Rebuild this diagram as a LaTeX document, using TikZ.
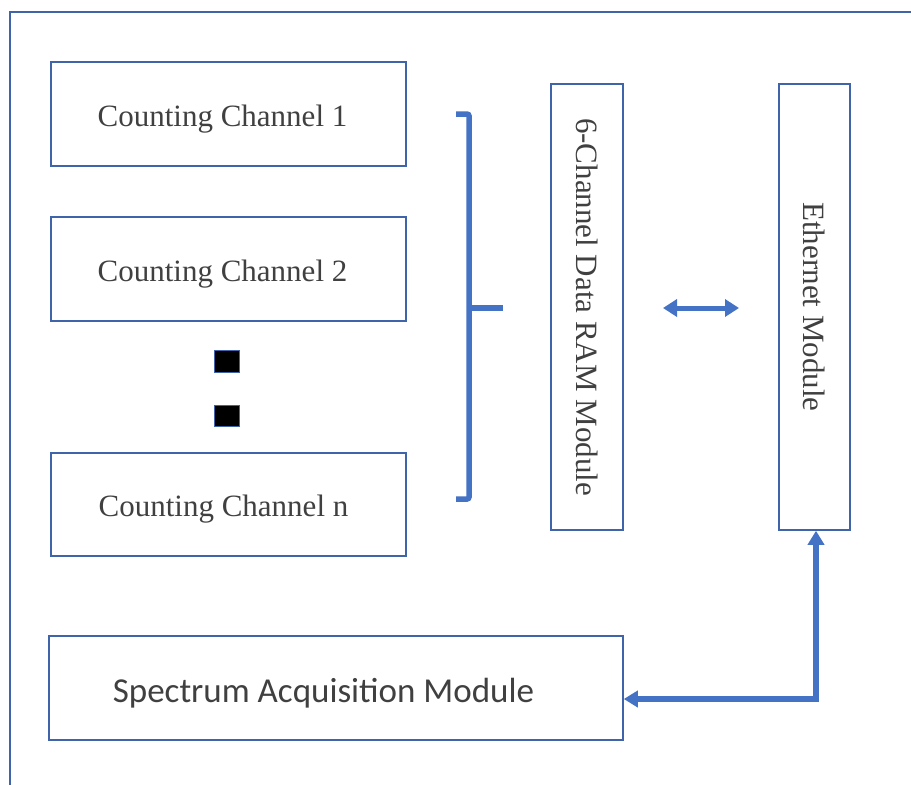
\documentclass[tikz,border=0pt]{standalone}
\usepackage{fontspec}
\setmainfont{Liberation Serif}
\newfontfamily\calibrifont{Carlito}
\usetikzlibrary{arrows.meta}
\definecolor{boxblue}{RGB}{64,100,170}
\definecolor{arrblue}{RGB}{68,114,196}
\definecolor{txtgray}{RGB}{64,64,64}
\tikzset{
  blk/.style={draw=boxblue, line width=1.5pt, fill=white, rectangle, inner sep=0pt},
  lbl/.style={text=txtgray, inner sep=0pt, font=\fontsize{31}{34}\selectfont},
  slbl/.style={text=txtgray, inner sep=0pt, font=\calibrifont\fontsize{35}{38}\selectfont},
  dotbox/.style={draw=boxblue, line width=1pt, fill=black, rectangle, inner sep=0pt},
  arr/.style={draw=arrblue, line width=5.5pt, {Triangle[length=14pt,width=16pt]}-{Triangle[length=14pt,width=16pt]}},
  darr/.style={draw=arrblue, line width=5pt, {Triangle[length=14pt,width=17pt]}-{Triangle[length=14pt,width=17pt]}},
  brk/.style={draw=arrblue, line width=5.5pt, rounded corners=2pt}
}
\begin{document}
\begin{tikzpicture}[x=1pt,y=-1pt]
\useasboundingbox (0,0) rectangle (911,785);
\clip (0,0) rectangle (911,785);
\draw[boxblue, line width=1.5pt] (10,12) rectangle (930,800);

\node[blk, minimum width=355pt, minimum height=104pt] (cc1) at (228.5,114) {};
\node[lbl] (cc1t) at ([xshift=-6pt,yshift=-5pt]cc1.center) {Counting Channel 1};
\node[blk, minimum width=355pt, minimum height=104pt] (cc2) at (228.5,269) {};
\node[lbl] (cc2t) at ([xshift=-6pt,yshift=-5pt]cc2.center) {Counting Channel 2};
\node[blk, minimum width=355pt, minimum height=103pt] (ccn) at (228.5,504.5) {};
\node[lbl] (ccnt) at ([xshift=-5pt,yshift=-5pt]ccn.center) {Counting Channel n};
\node[dotbox, minimum width=25pt, minimum height=22pt] (d1) at (227,361) {};
\node[dotbox, minimum width=25pt, minimum height=21pt] (d2) at (227,415.5) {};

\node[blk, minimum width=72pt, minimum height=446pt] (ram) at (587,307) {};
\node[lbl, rotate=-90] (ramt) at (ram.center) {6-Channel Data RAM Module};
\node[blk, minimum width=71pt, minimum height=446pt] (eth) at (814.5,307) {};
\node[lbl, rotate=-90] (etht) at (eth.center) {Ethernet Module};

\node[blk, minimum width=574pt, minimum height=104pt] (spec) at (336,688) {};
\node[slbl] (spect) at ([xshift=-12.5pt,yshift=-5pt]spec.center) {Spectrum Acquisition Module};

% bracket
\coordinate (bt) at (456,114);
\coordinate (bb) at (456,499);
\coordinate (bm) at (469,308);
\coordinate (bmt) at (503,308);
\draw[brk] (bt) -- (469,114) -- (469,499) -- (bb);
\draw[brk] (bm) -- (bmt);

% double arrow
\coordinate (a1) at (663,308);
\coordinate (a2) at (739,308);
\draw[darr] (a1) -- (a2);

% Ethernet to spectrum
\coordinate (corner) at (816,699);
\draw[arr] (eth.south -| corner) -- (corner) -- (corner -| spec.east);
\end{tikzpicture}
\end{document}
